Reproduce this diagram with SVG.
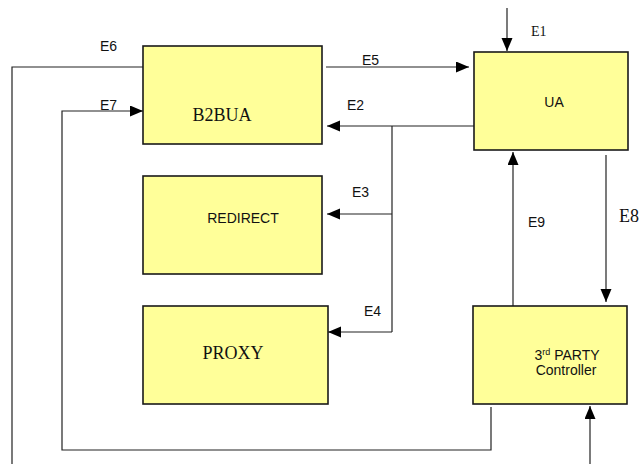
<svg xmlns="http://www.w3.org/2000/svg" width="640" height="464" viewBox="0 0 640 464">
<style>
.box{fill:#ffff99;stroke:#1a1a1a;stroke-width:1.6}
.ln{fill:none;stroke:#222;stroke-width:1.2}
.sans{font-family:"Liberation Sans",Arial,sans-serif;font-size:14px;fill:#111}
.serif{font-family:"Liberation Serif","Times New Roman",serif;fill:#111}
</style>
<defs>
<marker id="ah" markerUnits="userSpaceOnUse" markerWidth="14" markerHeight="12" refX="13" refY="5.5" orient="auto">
<path d="M0,0 L13,5.5 L0,11 z" fill="#000"/>
</marker>
</defs>
<rect width="640" height="464" fill="#fff"/>
<g id="connectors">
<path class="ln" d="M507,8 V51" marker-end="url(#ah)"/>
<path class="ln" d="M326,67 H469" marker-end="url(#ah)"/>
<path class="ln" d="M474,126 H327" marker-end="url(#ah)"/>
<path class="ln" d="M392,126 V332"/>
<path class="ln" d="M392,214 H327" marker-end="url(#ah)"/>
<path class="ln" d="M392,332 H328" marker-end="url(#ah)"/>
<path class="ln" d="M143,67 H12 V464"/>
<path class="ln" d="M491,407 V450 H62 V111 H143" marker-end="url(#ah)"/>
<path class="ln" d="M606,155 V302" marker-end="url(#ah)"/>
<path class="ln" d="M513,306 V152" marker-end="url(#ah)"/>
<path class="ln" d="M590,464 V406" marker-end="url(#ah)"/>
<text class="sans" x="100" y="51">E6</text>
<text class="sans" x="100" y="110">E7</text>
<text class="sans" x="362" y="65">E5</text>
<text class="sans" x="347" y="110">E2</text>
<text class="sans" x="352" y="197">E3</text>
<text class="sans" x="364" y="316">E4</text>
<text class="sans" x="528" y="227">E9</text>
<text class="serif" x="531" y="36" font-size="14">E1</text>
<text class="serif" x="619" y="222" font-size="18">E8</text>
</g>
<g id="b2bua">
<rect class="box" x="143" y="46" width="179" height="98"/>
<text class="serif" x="222" y="121" font-size="18" text-anchor="middle">B2BUA</text>
</g>
<g id="redirect">
<rect class="box" x="143" y="176" width="179" height="98"/>
<text class="sans" x="243" y="223" text-anchor="middle">REDIRECT</text>
</g>
<g id="proxy">
<rect class="box" x="143" y="306" width="185" height="98"/>
<text class="serif" x="233" y="359" font-size="18" text-anchor="middle">PROXY</text>
</g>
<g id="ua">
<rect class="box" x="474" y="52" width="154" height="98"/>
<text class="sans" x="554" y="107" text-anchor="middle">UA</text>
</g>
<g id="controller">
<rect class="box" x="473" y="306" width="154" height="98"/>
<text class="sans" x="567" y="360" text-anchor="middle">3<tspan font-size="9" dy="-5">rd</tspan><tspan dy="5"> PARTY</tspan></text>
<text class="sans" x="566" y="375" text-anchor="middle">Controller</text>
</g>
</svg>
